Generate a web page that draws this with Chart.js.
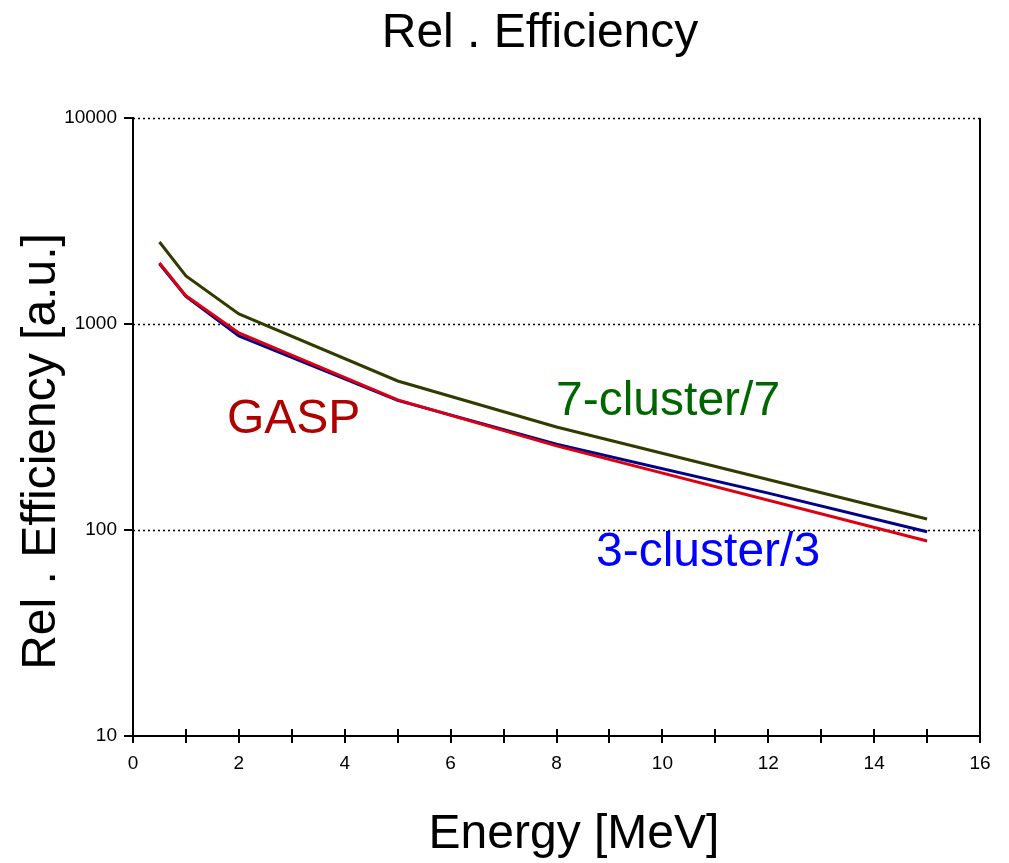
<!DOCTYPE html>
<html>
<head>
<meta charset="utf-8">
<script src="https://cdn.jsdelivr.net/npm/chart.js@4.4.1/dist/chart.umd.min.js"></script>
<style>
html,body{margin:0;padding:0;background:#fff;}
#wrap{width:1009px;height:863px;position:relative;}
</style>
</head>
<body>
<div id="wrap"><canvas id="c" width="1009" height="863"></canvas></div>
<script>
// ---- data ----
const gaspEnergy = [0.5, 1, 2, 5, 8, 15];
const gaspValues = [1980, 1370, 905, 428, 256, 88.5];
const cluster3Energy = [0.5, 1, 2, 5, 8, 12, 15];
const cluster3Values = [1960, 1360, 875, 426, 261, 151, 98];
const cluster7Energy = [0.5, 1, 2, 5, 8, 15];
const cluster7Values = [2500, 1710, 1120, 529, 316, 113];
const xTicks = [0,1,2,3,4,5,6,7,8,9,10,11,12,13,14,15,16];
const xTickLabels = [0,2,4,6,8,10,12,14,16];
const yTicks = [10, 100, 1000, 10000];

const chartTitle = 'Rel . Efficiency';
const xTitle = 'Energy [MeV]';
const yTitle = 'Rel . Efficiency [a.u.]';
const seriesLabels = ['GASP', '3-cluster/3', '7-cluster/7'];

const FONT = '"Liberation Sans", Arial, Helvetica, sans-serif';

function pts(xs, ys){ return xs.map((x,i)=>({x:x, y:ys[i]})); }

const decorPlugin = {
  id: 'decor',
  beforeDatasetsDraw(chart){
    const {ctx, chartArea:a, scales:{x, y}} = chart;
    ctx.save();
    // dotted horizontal grid lines
    ctx.strokeStyle = '#000';
    ctx.lineWidth = 1.5;
    ctx.setLineDash([2,3]);
    yTicks.forEach(v=>{
      if (v === y.min) return;
      const py = Math.round(y.getPixelForValue(v)) + 0.5;
      ctx.beginPath(); ctx.moveTo(a.left, py); ctx.lineTo(a.right, py); ctx.stroke();
    });
    ctx.setLineDash([]);
    // right frame line
    ctx.lineWidth = 2;
    ctx.beginPath(); ctx.moveTo(a.right, a.top); ctx.lineTo(a.right, a.bottom); ctx.stroke();
    // x tick marks crossing axis
    xTicks.forEach(v=>{
      const px = Math.round(x.getPixelForValue(v));
      ctx.beginPath(); ctx.moveTo(px, a.bottom - 7); ctx.lineTo(px, a.bottom + 7); ctx.stroke();
    });
    // y tick marks (outside)
    yTicks.forEach(v=>{
      const py = Math.round(y.getPixelForValue(v));
      ctx.beginPath(); ctx.moveTo(a.left - 9, py); ctx.lineTo(a.left, py); ctx.stroke();
    });
    ctx.restore();
  },
  afterDraw(chart){
    const ctx = chart.ctx;
    ctx.save();
    ctx.fillStyle = '#000';
    ctx.font = '48px ' + FONT;
    ctx.textBaseline = 'alphabetic';
    ctx.textAlign = 'center';
    ctx.fillText(chartTitle, 540, 47);
    ctx.fillText(xTitle, 574, 848);
    ctx.save();
    ctx.translate(55, 451.5);
    ctx.rotate(-Math.PI/2);
    ctx.fillText(yTitle, 0, 0);
    ctx.restore();
    ctx.textAlign = 'left';
    ctx.font = '48px ' + FONT;
    ctx.fillStyle = '#b00000';
    ctx.fillText(seriesLabels[0], 227, 433);
    ctx.fillStyle = '#0000ff';
    ctx.fillText(seriesLabels[1], 596, 566);
    ctx.fillStyle = '#006600';
    ctx.fillText(seriesLabels[2], 556, 415);
    ctx.restore();
  }
};

new Chart(document.getElementById('c'), {
  type: 'line',
  data: {
    datasets: [
      { label: seriesLabels[0], data: pts(gaspEnergy, gaspValues), borderColor: '#dd0011', borderWidth: 3, pointRadius: 0, tension: 0, fill: false },
      { label: seriesLabels[1], data: pts(cluster3Energy, cluster3Values), borderColor: '#000088', borderWidth: 3, pointRadius: 0, tension: 0, fill: false },
      { label: seriesLabels[2], data: pts(cluster7Energy, cluster7Values), borderColor: '#333a00', borderWidth: 3, pointRadius: 0, tension: 0, fill: false }
    ]
  },
  options: {
    responsive: false,
    animation: false,
    events: [],
    layout: { padding: { left: 0, right: 29, top: 118, bottom: 0 } },
    plugins: { legend: { display: false }, title: { display: false }, tooltip: { enabled: false } },
    scales: {
      x: {
        type: 'linear', min: 0, max: 16,
        afterBuildTicks: (s)=>{ s.ticks = xTicks.map(v=>({value:v})); },
        afterFit: (s)=>{ s.height = 127; },
        ticks: {
          autoSkip: false, maxRotation: 0, padding: 16, color: '#000',
          font: { family: FONT, size: 19 },
          callback: (v)=> xTickLabels.includes(v) ? String(v) : ''
        },
        grid: { display: false, drawTicks: false },
        border: { display: true, color: '#000', width: 2 }
      },
      y: {
        type: 'logarithmic', min: 10, max: 10000,
        afterBuildTicks: (s)=>{ s.ticks = yTicks.map(v=>({value:v})); },
        afterFit: (s)=>{ s.width = 133; },
        ticks: {
          autoSkip: false, padding: 16, color: '#000',
          font: { family: FONT, size: 19 },
          callback: (v)=> yTicks.includes(v) ? String(v) : ''
        },
        grid: { display: false, drawTicks: false },
        border: { display: true, color: '#000', width: 2 }
      }
    }
  },
  plugins: [decorPlugin]
});
</script>
</body>
</html>
